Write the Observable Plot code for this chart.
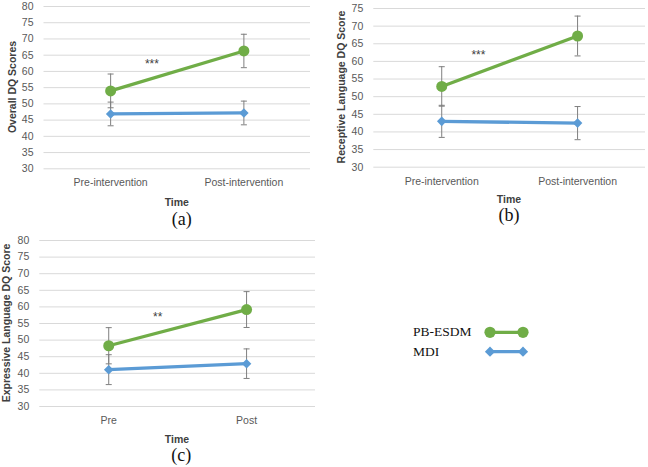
<!DOCTYPE html>
<html><head><meta charset="utf-8">
<script src="https://cdn.jsdelivr.net/npm/d3@7"></script>
<script src="https://cdn.jsdelivr.net/npm/@observablehq/plot@0.6"></script>
<style>
body{margin:0;background:#fff;}
#root{position:relative;width:648px;height:467px;overflow:hidden;font-family:"Liberation Sans",Arial,sans-serif;}
.plotbox{position:absolute;}
.ytitle,.xtitle,.plabel{position:absolute;white-space:nowrap;line-height:1;}
.ytitle{font-weight:bold;font-size:10.5px;color:#404040;transform:translate(-50%,-50%) rotate(-90deg);}
.xtitle{font-weight:bold;font-size:10.5px;color:#404040;transform:translate(-50%,-50%);}
.plabel{font-family:"Liberation Serif","Times New Roman",serif;font-size:18px;color:#111;transform:translate(-50%,-50%);}
</style></head>
<body><div id="root"></div>
<script>
// ---- data ----
const seriesNames = ["PB-ESDM", "MDI"];
const timeLong = ["Pre-intervention", "Post-intervention"];
const timeShort = ["Pre", "Post"];

const overallESDM = [54.0, 66.3];
const overallESDMErr = [5.2, 5.15];
const overallMDI = [46.9, 47.2];
const overallMDIErr = [3.65, 3.65];

const receptiveESDM = [52.9, 67.2];
const receptiveESDMErr = [5.6, 5.65];
const receptiveMDI = [43.0, 42.5];
const receptiveMDIErr = [4.55, 4.7];

const expressiveESDM = [48.3, 59.2];
const expressiveESDMErr = [5.45, 5.4];
const expressiveMDI = [41.1, 42.9];
const expressiveMDIErr = [4.5, 4.45];

const ticksA = [30, 35, 40, 45, 50, 55, 60, 65, 70, 75, 80];
const ticksB = [30, 35, 40, 45, 50, 55, 60, 65, 70, 75];
const ticksC = [30, 35, 40, 45, 50, 55, 60, 65, 70, 75, 80];

const yTitles = ["Overall DQ Scores", "Receptive Language DQ Score", "Expressive Language DQ Score"];
const xTitle = "Time";
const panelLabels = ["(a)", "(b)", "(c)"];
// significance annotations: [x position (category index units), y value, text]
const sigA = {x: 0.31, y: 61.2, t: "***"};
const sigB = {x: 0.27, y: 60.8, t: "***"};
const sigC = {x: 0.355, y: 55.8, t: "**"};

const GREEN = "#70ad47", BLUE = "#5b9bd5", ERR = "#7f7f7f";

const capSymbol = {draw(ctx, size) { const w = Math.sqrt(size) / 2; ctx.moveTo(-w, 0); ctx.lineTo(w, 0); }};

function rows(cats, mean, err, series) {
  return cats.map((c, i) => ({i, cat: c, series, mean: mean[i], lo: mean[i] - err[i], hi: mean[i] + err[i]}));
}

const panels = [
  {left: 0, top: 0, width: 320, height: 194, ml: 43.5, mr: 10, mt: 6, fb: 168.3, domain: [30, 80], ticks: ticksA, cats: timeLong,
   g: rows(timeLong, overallESDM, overallESDMErr, seriesNames[0]), b: rows(timeLong, overallMDI, overallMDIErr, seriesNames[1]),
   sig: sigA, pad: 10, ytitle: yTitles[0], ytx: 12, label: panelLabels[0], lx: 181.7, ly: 219, tx: 176.8, ty: 201.7},
  {left: 320, top: 0, width: 328, height: 194, ml: 53.3, mr: 3, mt: 8, fb: 166.7, domain: [30, 75], ticks: ticksB, cats: timeLong,
   g: rows(timeLong, receptiveESDM, receptiveESDMErr, seriesNames[0]), b: rows(timeLong, receptiveMDI, receptiveMDIErr, seriesNames[1]),
   sig: sigB, pad: 10, ytitle: yTitles[1], ytx: 340.7, label: panelLabels[1], lx: 509, ly: 215, tx: 509, ty: 199.3},
  {left: 0, top: 234, width: 320, height: 196, ml: 39.3, mr: 5, mt: 6, fb: 172, domain: [30, 80], ticks: ticksC, cats: timeShort,
   g: rows(timeShort, expressiveESDM, expressiveESDMErr, seriesNames[0]), b: rows(timeShort, expressiveMDI, expressiveMDIErr, seriesNames[1]),
   sig: sigC, pad: 10.5, ytitle: yTitles[2], ytx: 6.3, label: panelLabels[2], lx: 181.2, ly: 455.3, tx: 177, ty: 439}
];

const root = document.getElementById("root");

panels.forEach(p => {
  const all = p.g.concat(p.b);
  const chart = Plot.plot({
    width: p.width, height: p.height,
    marginLeft: p.ml, marginRight: p.mr, marginTop: p.mt, marginBottom: p.height - p.fb,
    style: {fontFamily: '"Liberation Sans", Arial, sans-serif', fontSize: "10.5px", color: "#595959", background: "transparent", overflow: "visible"},
    x: {type: "linear", domain: [-0.5, 1.5], ticks: [0, 1], tickFormat: i => p.cats[i], tickSize: 0, tickPadding: p.pad, label: null},
    y: {domain: p.domain, ticks: p.ticks, tickSize: 0, tickPadding: 10.5, label: null},
    marks: [
      Plot.ruleY(p.ticks, {stroke: "#d9d9d9", strokeWidth: 1}),
      Plot.ruleX(all, {x: "i", y1: "lo", y2: "hi", stroke: ERR, strokeWidth: 1}),
      Plot.dot(all, {x: "i", y: "lo", symbol: capSymbol, r: 3.4, stroke: ERR, fill: "none", strokeWidth: 1}),
      Plot.dot(all, {x: "i", y: "hi", symbol: capSymbol, r: 3.4, stroke: ERR, fill: "none", strokeWidth: 1}),
      Plot.line(p.g, {x: "i", y: "mean", stroke: GREEN, strokeWidth: 3.3}),
      Plot.line(p.b, {x: "i", y: "mean", stroke: BLUE, strokeWidth: 3.3}),
      Plot.dot(p.g, {x: "i", y: "mean", symbol: "circle", r: 5.5, fill: GREEN, stroke: "none"}),
      Plot.dot(p.b, {x: "i", y: "mean", symbol: "diamond2", r: 4.3, fill: BLUE, stroke: "none"}),
      Plot.text([p.sig], {x: "x", y: "y", text: "t", lineAnchor: "bottom", textAnchor: "middle", fontSize: 12, fill: "#404040"})
    ]
  });
  const box = document.createElement("div");
  box.className = "plotbox";
  box.style.left = p.left + "px";
  box.style.top = p.top + "px";
  box.appendChild(chart);
  root.appendChild(box);

  const yt = document.createElement("div");
  yt.className = "ytitle"; yt.textContent = p.ytitle;
  yt.style.left = p.ytx + "px";
  yt.style.top = (p.top + (p.mt + p.fb) / 2) + "px";
  root.appendChild(yt);

  const xt = document.createElement("div");
  xt.className = "xtitle"; xt.textContent = xTitle;
  xt.style.left = p.tx + "px"; xt.style.top = p.ty + "px";
  root.appendChild(xt);

  const pl = document.createElement("div");
  pl.className = "plabel"; pl.textContent = p.label;
  pl.style.left = p.lx + "px"; pl.style.top = p.ly + "px";
  root.appendChild(pl);
});

// ---- legend ----
const legend = d3.select(root).append("svg")
  .attr("width", 248).attr("height", 70)
  .style("position", "absolute").style("left", "400px").style("top", "310px");
const legendItems = [
  {name: seriesNames[0], color: GREEN, symbol: d3.symbolCircle, size: Math.PI * 5.6 * 5.6},
  {name: seriesNames[1], color: BLUE, symbol: d3.symbolDiamond2, size: Math.PI * 4.6 * 4.6}
];
const li = legend.selectAll("g").data(legendItems).join("g")
  .attr("transform", (d, i) => `translate(0,${22.3 + i * 19.4})`);
li.append("text").attr("x", 13).attr("y", 3.8)
  .attr("font-family", '"Liberation Serif","Times New Roman",serif').attr("font-size", 13.5).attr("fill", "#111")
  .text(d => d.name);
li.append("line").attr("x1", 90).attr("x2", 123).attr("stroke", d => d.color).attr("stroke-width", 3.3);
li.selectAll("path").data(d => [d, d]).join("path")
  .attr("transform", (d, j) => `translate(${j ? 123 : 90},0)`)
  .attr("d", d => d3.symbol(d.symbol, d.size)())
  .attr("fill", d => d.color);
</script>
</body></html>
